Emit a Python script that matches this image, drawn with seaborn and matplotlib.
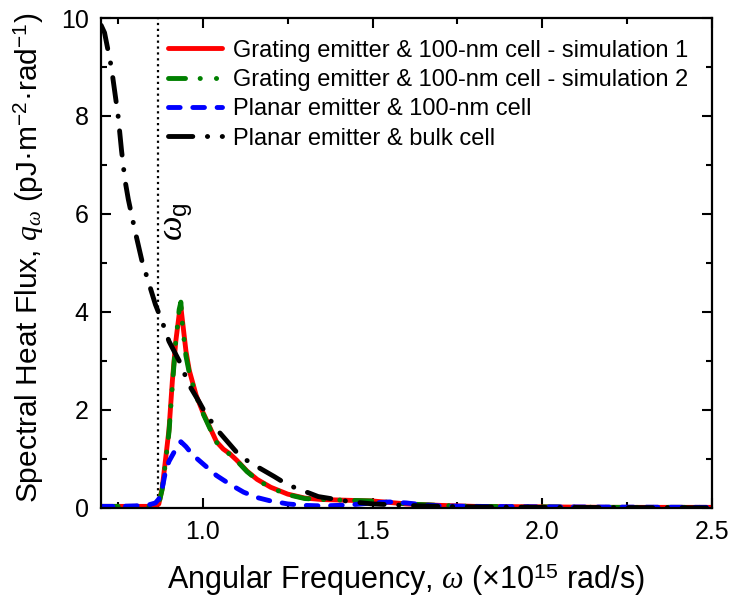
import numpy as np
import pandas as pd
import matplotlib
matplotlib.use("Agg")
import matplotlib.pyplot as plt
import seaborn as sns
from matplotlib.ticker import MultipleLocator

# ---- data ----
red_x = [0.70, 0.75, 0.80, 0.84, 0.86, 0.87, 0.88, 0.89, 0.90, 0.91, 0.92, 0.93, 0.935,
         0.94, 0.95, 0.96, 0.98, 1.00, 1.02, 1.04, 1.06, 1.08, 1.10, 1.13, 1.16, 1.20,
         1.25, 1.30, 1.35, 1.40, 1.45, 1.50, 1.55, 1.60, 1.70, 1.80, 2.00, 2.20, 2.50]
red_y = [0.03, 0.03, 0.03, 0.03, 0.04, 0.08, 0.40, 1.00, 1.60, 2.60, 3.40, 3.95, 4.10,
         3.80, 3.20, 2.80, 2.30, 1.95, 1.65, 1.35, 1.20, 1.10, 0.97, 0.75, 0.58, 0.42,
         0.28, 0.20, 0.17, 0.16, 0.15, 0.14, 0.11, 0.08, 0.05, 0.03, 0.02, 0.01, 0.01]

green_x = [0.70, 0.75, 0.80, 0.84, 0.86, 0.87, 0.88, 0.89, 0.90, 0.91, 0.92, 0.93, 0.935,
           0.94, 0.95, 0.96, 0.98, 1.00, 1.02, 1.04, 1.06, 1.08, 1.10, 1.13, 1.16, 1.20,
           1.25, 1.30, 1.35, 1.40, 1.45, 1.50, 1.55, 1.60, 1.70, 1.80, 2.00, 2.20, 2.50]
green_y = [0.03, 0.03, 0.03, 0.03, 0.04, 0.08, 0.38, 0.95, 1.55, 2.50, 3.40, 4.05, 4.20,
           3.70, 3.10, 2.75, 2.28, 1.93, 1.63, 1.34, 1.19, 1.09, 0.96, 0.74, 0.57, 0.41,
           0.27, 0.19, 0.17, 0.16, 0.15, 0.14, 0.11, 0.08, 0.05, 0.03, 0.02, 0.01, 0.01]

blue_x = [0.70, 0.75, 0.80, 0.84, 0.86, 0.87, 0.88, 0.89, 0.90, 0.92, 0.935, 0.95, 0.97,
          1.00, 1.04, 1.08, 1.12, 1.16, 1.20, 1.25, 1.30, 1.35, 1.40, 1.45, 1.50, 1.55,
          1.60, 1.65, 1.70, 1.80, 2.00, 2.50]
blue_y = [0.03, 0.03, 0.04, 0.06, 0.10, 0.18, 0.40, 0.75, 0.95, 1.20, 1.35, 1.25, 1.08,
          0.90, 0.66, 0.48, 0.32, 0.21, 0.14, 0.08, 0.05, 0.04, 0.05, 0.07, 0.10, 0.12,
          0.10, 0.06, 0.04, 0.03, 0.02, 0.01]

black_x = [0.70, 0.71, 0.73, 0.74, 0.75, 0.76, 0.77, 0.78, 0.80, 0.82, 0.84, 0.86, 0.88,
           0.90, 0.93, 0.96, 0.99, 1.01, 1.05, 1.11, 1.16, 1.21, 1.25, 1.34, 1.43, 1.50,
           1.60, 1.70, 1.80, 2.00, 2.50]
black_y = [9.85, 9.70, 9.00, 8.50, 8.00, 7.30, 6.70, 6.30, 5.65, 5.05, 4.60, 4.15, 3.80,
           3.40, 3.00, 2.50, 2.15, 1.90, 1.53, 1.05, 0.84, 0.64, 0.47, 0.23, 0.13, 0.08,
           0.05, 0.03, 0.02, 0.01, 0.00]

omega_g = 0.868

labels = ["Grating emitter & 100-nm cell - simulation 1",
          "Grating emitter & 100-nm cell - simulation 2",
          "Planar emitter & 100-nm cell",
          "Planar emitter & bulk cell"]

x_ticks = [1.0, 1.5, 2.0, 2.5]
y_ticks = [0, 2, 4, 6, 8, 10]

# ---- style ----
sns.set_style("ticks")
plt.rcParams['font.family'] = ['Liberation Sans', 'DejaVu Sans']
plt.rcParams['mathtext.fontset'] = 'custom'
plt.rcParams['mathtext.rm'] = 'Liberation Sans'
plt.rcParams['mathtext.it'] = 'Liberation Serif:italic'
plt.rcParams['mathtext.bf'] = 'Liberation Sans:bold'
plt.rcParams['text.color'] = 'black'
plt.rcParams['axes.labelcolor'] = 'black'

fig = plt.figure(figsize=(7.33, 6.01), dpi=100)
ax = fig.add_axes([0.138, 0.155, 0.833, 0.815])

lw = 3.5
series = [
    (red_x, red_y, "#ff0000", "-"),
    (green_x, green_y, "#008000", (0, (3.5, 3.0, 0.05, 3.3, 0.05, 3.0))),
    (blue_x, blue_y, "#0000ff", (0, (2.4, 2.6))),
    (black_x, black_y, "#000000", (0, (5.0, 3.0, 0.05, 3.0))),
]
for (xs, ys, c, ls), lab in zip(series, labels):
    df = pd.DataFrame({"x": xs, "y": ys})
    sns.lineplot(data=df, x="x", y="y", ax=ax, color=c, lw=lw, linestyle=ls,
                 label=lab, dash_capstyle="round", solid_capstyle="round",
                 estimator=None, sort=True)

ax.axvline(omega_g, color="black", ls=":", lw=1.6, zorder=1)
ax.text(omega_g + 0.012, 5.85, r"$\omega_{\mathrm{g}}$", rotation=90, fontsize=25,
        va="center", ha="left")

ax.set_xlim(0.7, 2.5)
ax.set_ylim(0, 10)
ax.set_xticks(x_ticks)
ax.set_yticks(y_ticks)
ax.set_xticklabels([f"{v:.1f}" for v in x_ticks])
ax.set_yticklabels([str(v) for v in y_ticks])
ax.xaxis.set_minor_locator(MultipleLocator(0.25))
ax.yaxis.set_minor_locator(MultipleLocator(1))
ax.tick_params(which="both", direction="in", top=True, right=True, width=1.5,
               labelsize=18, colors="black", pad=9)
ax.tick_params(which="major", length=7)
ax.tick_params(which="minor", length=4)
for sp in ax.spines.values():
    sp.set_linewidth(1.6)
    sp.set_color("black")

ax.set_xlabel("Angular Frequency, $\\omega$ (\u00d710$^{15}$ rad/s)", fontsize=22, labelpad=12)
ax.set_ylabel("Spectral Heat Flux, $q_\\omega$ (pJ\u00b7m$^{\u22122}$\u00b7rad$^{\u22121}$)",
              fontsize=21.5, labelpad=10)
ax.yaxis.set_label_coords(-0.09, 0.51)

leg = ax.legend(loc="upper left", bbox_to_anchor=(0.1097, 0.956), frameon=False,
                fontsize=17, handlelength=2.3, handletextpad=0.45, labelspacing=0.31,
                borderaxespad=0, borderpad=0)

fig.savefig("out.png", dpi=100)
